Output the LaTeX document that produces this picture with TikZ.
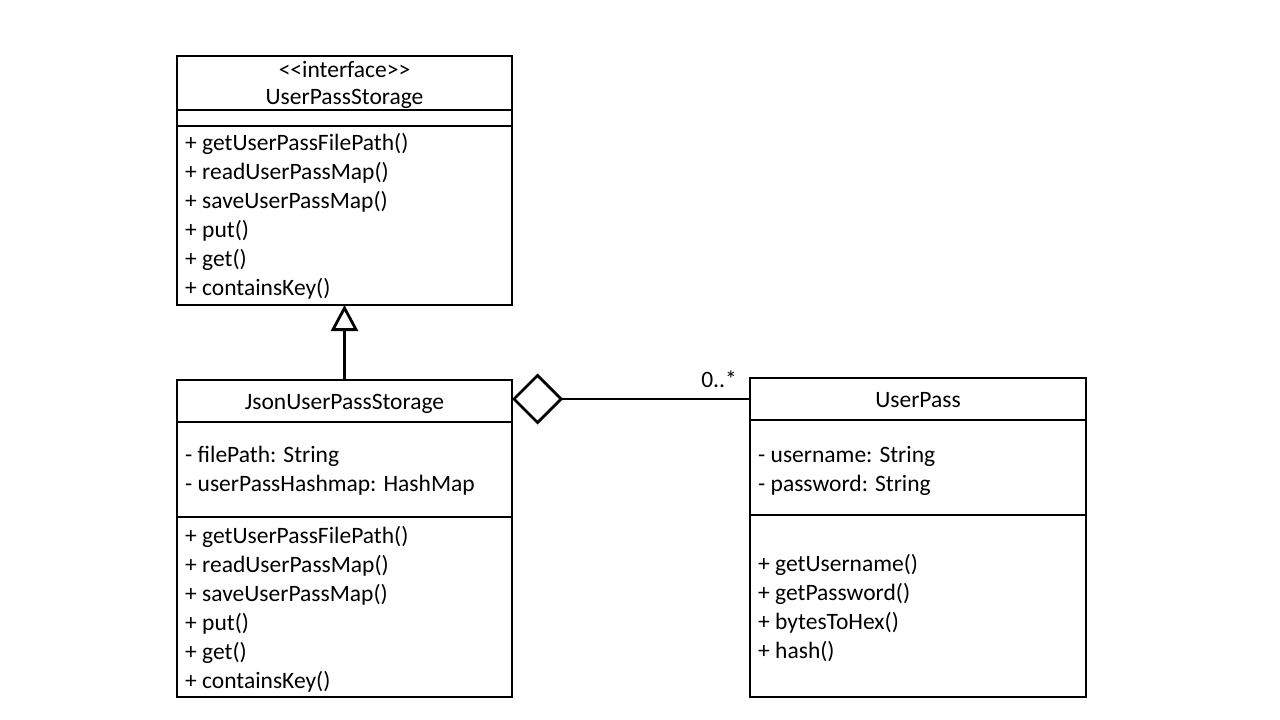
\documentclass[tikz,border=0pt]{standalone}
\usepackage{fontspec}
\setmainfont{Carlito}[Ligatures=TeXOff]
\usetikzlibrary{arrows.meta}
\begin{document}
\begin{tikzpicture}[x=1pt,y=-1pt,
  compartment/.style={draw, line width=2.8pt, inner sep=0pt, outer sep=0pt, anchor=north west},
  member/.style={anchor=base west, inner sep=0pt, font=\fontsize{23.5}{28}\selectfont},
  heading/.style={anchor=base, inner sep=0pt, font=\fontsize{23.5}{28}\selectfont},
  link/.style={line width=2.8pt}]
\useasboundingbox[fill=white] (0,0) rectangle (1280,720);

% interface UserPassStorage
\node[compartment, minimum width=335pt, minimum height=54pt]  (iname) at (177,56)  {};
\node[compartment, minimum width=335pt, minimum height=16pt]  (iattr) at (177,110) {};
\node[compartment, minimum width=335pt, minimum height=179pt] (iops)  at (177,126) {};
\node[heading] (istereo) at (344.5,77)  {<<interface>>};
\node[heading] (ititle)  at (344.5,104) {UserPassStorage};
\foreach \t [count=\i] in {+ getUserPassFilePath(), + readUserPassMap(), + saveUserPassMap(), + put(), + get(), + containsKey()}
  \node[member] (iop\i) at (185,{150+29*(\i-1)}) {\t};

% class JsonUserPassStorage
\node[compartment, minimum width=335pt, minimum height=42pt]  (jname) at (177,380) {};
\node[compartment, minimum width=335pt, minimum height=95pt]  (jattr) at (177,422) {};
\node[compartment, minimum width=335pt, minimum height=180pt] (jops)  at (177,517) {};
\node[heading] (jtitle) at (344.5,409) {JsonUserPassStorage};
\node[member] (jat1) at (185,462) {- filePath: String};
\node[member] (jat2) at (185,491) {- userPassHashmap: HashMap};
\foreach \t [count=\i] in {+ getUserPassFilePath(), + readUserPassMap(), + saveUserPassMap(), + put(), + get(), + containsKey()}
  \node[member] (jop\i) at (185,{543+29*(\i-1)}) {\t};

% class UserPass
\node[compartment, minimum width=336pt, minimum height=42pt]  (uname) at (750,378) {};
\node[compartment, minimum width=336pt, minimum height=95pt]  (uattr) at (750,420) {};
\node[compartment, minimum width=336pt, minimum height=182pt] (uops)  at (750,515) {};
\node[heading] (utitle) at (918,407) {UserPass};
\node[member] (uat1) at (758,462) {- username: String};
\node[member] (uat2) at (758,491) {- password: String};
\foreach \t [count=\i] in {+ getUsername(), + getPassword(), + bytesToHex(), + hash()}
  \node[member] (uop\i) at (758,{571+29*(\i-1)}) {\t};

% realization of the interface
\draw[link, -{Triangle[open, length=26pt, width=27pt]}] (jname.north) -- (iops.south);

% aggregation of UserPass entries
\draw[link, {Diamond[open, length=51pt, width=51pt]}-] (jname.east |- uname.west) -- (uname.west);
\node[heading, anchor=base east] (mult) at (737,387) {0..*};
\end{tikzpicture}
\end{document}
